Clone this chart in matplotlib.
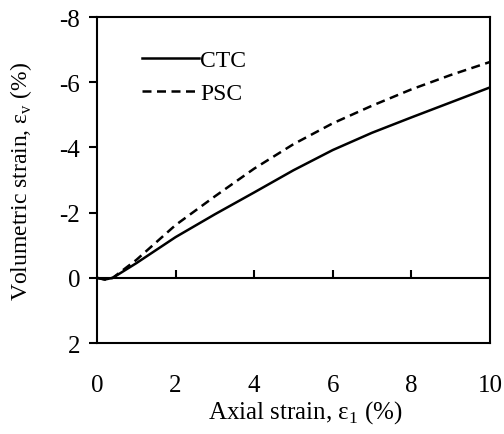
#!/usr/bin/env python3
"""
Volumetric strain vs axial strain, CTC and PSC curves.
"""

import matplotlib
matplotlib.use("Agg")
import matplotlib.pyplot as plt

plt.rcParams["font.family"] = ["Liberation Serif", "DejaVu Serif"]
plt.rcParams["mathtext.fontset"] = "custom"
plt.rcParams["mathtext.rm"] = "Liberation Serif"
plt.rcParams["axes.unicode_minus"] = False

# Data
AXIAL = [0, 0.2, 0.4, 1, 2, 3, 4, 5, 6, 7, 8, 9, 10]
CTC = [0, 0.05, 0, -0.45, -1.25, -1.95, -2.62, -3.3, -3.92, -4.45, -4.92, -5.38, -5.84]
PSC = [0, 0.05, 0, -0.55, -1.62, -2.5, -3.35, -4.1, -4.74, -5.28, -5.78, -6.22, -6.62]

X_TICKS = [0, 2, 4, 6, 8, 10]
Y_TICKS = [-8, -6, -4, -2, 0, 2]

LW_AX = 1.5
FS_TICK = 18


def main() -> None:
    fig = plt.figure(figsize=(5.04, 4.35), dpi=100)
    ax = fig.add_axes([0.1925, 0.209, 0.7795, 0.7496])

    ax.plot(AXIAL, CTC, color="black", lw=1.8, label="CTC")
    ax.plot(AXIAL, PSC, color="black", lw=1.8, ls=(0, (3.6, 2.2)), label="PSC")

    ax.set_xlim(0, 10)
    ax.set_ylim(2, -8)
    ax.axhline(0, color="black", lw=LW_AX)

    for s in ax.spines.values():
        s.set_linewidth(LW_AX)

    ax.set_xticks(X_TICKS)
    ax.set_yticks(Y_TICKS)
    ax.tick_params(axis="x", length=0, pad=22, labelsize=FS_TICK)
    ax.tick_params(axis="y", direction="out", length=6, width=LW_AX, pad=6, labelsize=FS_TICK)

    # x ticks sit on the zero line, pointing up
    sec = ax.secondary_xaxis(0.2)
    sec.set_xticks(X_TICKS[1:-1])
    sec.tick_params(direction="in", length=6, width=LW_AX, labelbottom=False)
    sec.spines["bottom"].set_visible(False)

    ax.set_xlabel("Axial strain, ε$_1$ (%)", fontsize=18)
    ax.set_ylabel("Volumetric strain, ε$_\\mathrm{v}$ (%)", fontsize=17)
    ax.xaxis.set_label_coords(0.53, -0.17)
    ax.yaxis.set_label_coords(-0.16, 0.5)

    ax.legend(loc="upper left", frameon=False, fontsize=17, handlelength=2.4,
              handletextpad=0.05, borderpad=0, borderaxespad=0, labelspacing=0.5,
              bbox_to_anchor=(0.115, 0.9))

    fig.savefig("out.png", dpi=100)
    plt.close(fig)


if __name__ == "__main__":
    main()
